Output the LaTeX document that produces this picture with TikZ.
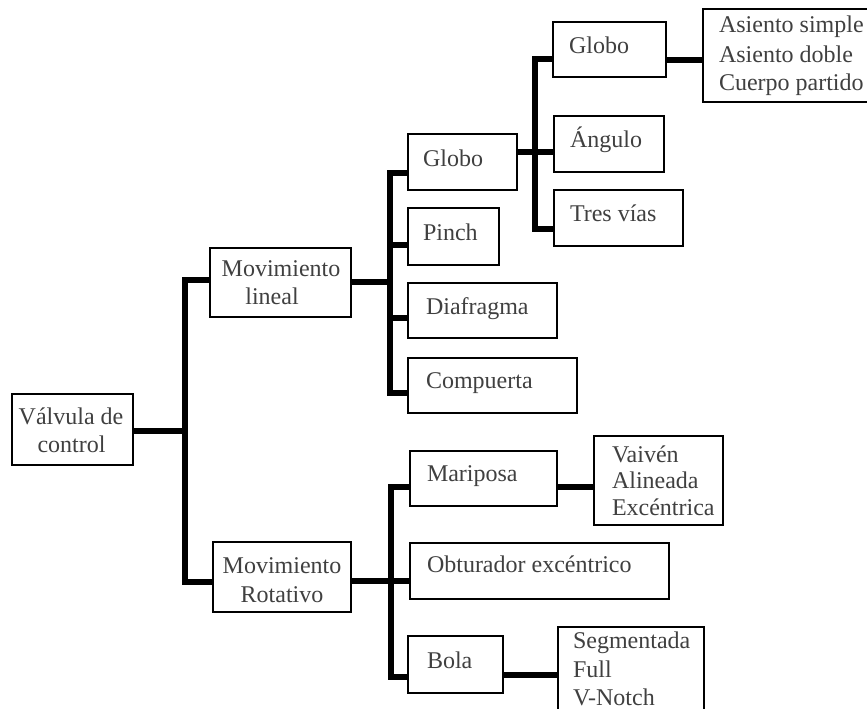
\documentclass[tikz,border=0pt]{standalone}
\usepackage{fontspec}
\setmainfont{Liberation Serif}
% box from (x1,y1) to (x2,y2), y measured downwards
\newcommand\boxat[5]{%
  \node[box, minimum width={(#4-#2)*1pt}, minimum height={(#5-#3)*1pt}]
    (#1) at ({(#2+#4)/2},{(#3+#5)/2}) {};}
\begin{document}
\begin{tikzpicture}[x=1pt,y=-1pt,
  box/.style={draw=black, line width=1.3pt, rectangle, inner sep=0pt, outer sep=0pt},
  txt/.style={inner sep=0pt, outer sep=0pt, text=black!75, font=\fontsize{24}{27}\selectfont},
  lt/.style={txt, anchor=base west},
  ct/.style={txt, anchor=base},
  conn/.style={line width=5.5pt, line join=miter}]
\useasboundingbox[fill=white] (0,0) rectangle (867,709);

% ---- boxes ----
\boxat{valv}{12}{394}{133}{465}
\boxat{ml}{210}{248}{351}{317}
\boxat{mr}{213}{542}{351}{612}
\boxat{glb2}{408}{134}{517}{190}
\boxat{pinch}{408}{208}{499}{265}
\boxat{diaf}{408}{283}{557}{338}
\boxat{comp}{408}{358}{577}{413}
\boxat{glb3}{553}{22}{666}{77}
\boxat{ang}{554}{116}{664}{172}
\boxat{tres}{554}{190}{683}{246}
\boxat{asi}{703}{9}{874}{102}
\boxat{mari}{410}{451}{557}{506}
\boxat{obt}{410}{543}{669}{599}
\boxat{bola}{408}{636}{503}{693}
\boxat{vai}{594}{436}{723}{525}
\boxat{seg}{558}{627}{704}{718}

% ---- texts ----
\node[ct] (valv-t1) at (71,424) {Válvula de};
\node[ct] (valv-t2) at (71.5,452) {control};
\node[ct] (ml-t1) at (281,276) {Movimiento};
\node[ct] (ml-t2) at (272,304) {lineal};
\node[ct] (mr-t1) at (282,573) {Movimiento};
\node[ct] (mr-t2) at (282,602) {Rotativo};
\node[lt] (glb2-t) at (423,166) {Globo};
\node[lt] (pinch-t) at (423,240) {Pinch};
\node[lt] (diaf-t) at (426,314) {Diafragma};
\node[lt] (comp-t) at (426,388) {Compuerta};
\node[lt] (glb3-t) at (569,54) {Globo};
\node[lt] (ang-t) at (570,147) {Ángulo};
\node[lt] (tres-t) at (570,221) {Tres vías};
\node[lt] (asi-t1) at (719,33) {Asiento simple};
\node[lt] (asi-t2) at (719,63) {Asiento doble};
\node[lt] (asi-t3) at (719,90) {Cuerpo partido};
\node[lt] (mari-t) at (427,481) {Mariposa};
\node[lt] (obt-t) at (427,572) {Obturador excéntrico};
\node[lt] (bola-t) at (427,668) {Bola};
\node[lt] (vai-t1) at (612,462) {Vaivén};
\node[lt] (vai-t2) at (612,488.5) {Alineada};
\node[lt] (vai-t3) at (612,515) {Excéntrica};
\node[lt] (seg-t1) at (573,648) {Segmentada};
\node[lt] (seg-t2) at (573,677) {Full};
\node[lt] (seg-t3) at (573,705) {V-Notch};

% ---- connection points ----
\coordinate (valv-o) at ([yshift=-1.5pt]valv.east);
\coordinate (ml-i) at ([yshift=2.5pt]ml.west);
\coordinate (ml-o) at ([yshift=0.5pt]ml.east);
\coordinate (mr-i) at ([yshift=-5pt]mr.west);
\coordinate (mr-o) at ([yshift=-4pt]mr.east);
\coordinate (glb2-i) at ([yshift=-11pt]glb2.west);
\coordinate (glb2-o) at ([yshift=10pt]glb2.east);
\coordinate (pinch-i) at ([yshift=-8.5pt]pinch.west);
\coordinate (diaf-i) at ([yshift=-7.5pt]diaf.west);
\coordinate (comp-i) at ([yshift=-7.5pt]comp.west);
\coordinate (glb3-i) at ([yshift=-9.5pt]glb3.west);
\coordinate (glb3-o) at ([yshift=-10.5pt]glb3.east);
\coordinate (tres-i) at ([yshift=-11pt]tres.west);
\coordinate (mari-i) at ([yshift=-8.5pt]mari.west);
\coordinate (mari-o) at ([yshift=-8.5pt]mari.east);
\coordinate (bola-i) at ([yshift=-12.5pt]bola.west);
\coordinate (bola-o) at ([yshift=-10.5pt]bola.east);

% junction bars
\coordinate (j1) at ([xshift=52pt]valv-o);
\coordinate (j2) at ([xshift=39pt]ml-o);
\coordinate (j3) at ([xshift=40pt]mr-o);
\coordinate (j4) at ([xshift=18pt]glb2-o);

% ---- connectors ----
\draw[conn] (valv-o) -- (j1);
\draw[conn] (ml-i) -| (j1) |- (mr-i);

\draw[conn] (ml-o) -- (j2);
\draw[conn] (glb2-i) -| (j2) |- (comp-i);
\draw[conn] (j2 |- pinch-i) -- (pinch-i);
\draw[conn] (j2 |- diaf-i) -- (diaf-i);

\draw[conn] (mr-o) -- (mr-o -| obt.west);
\draw[conn] (mari-i) -| (j3) |- (bola-i);

\draw[conn] (glb2-o) -- (glb2-o -| ang.west);
\draw[conn] (glb3-i) -| (j4) |- (tres-i);

\draw[conn] (glb3-o) -- (glb3-o -| asi.west);
\draw[conn] (mari-o) -- (mari-o -| vai.west);
\draw[conn] (bola-o) -- (bola-o -| seg.west);
\end{tikzpicture}
\end{document}
